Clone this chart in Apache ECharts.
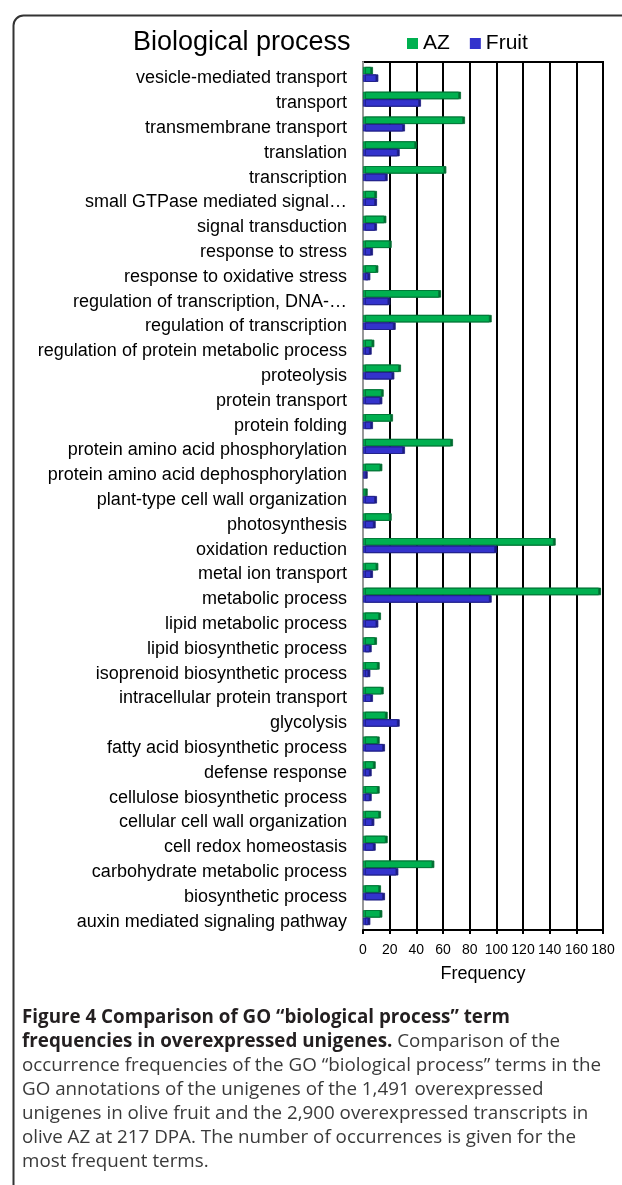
<!DOCTYPE html>
<html>
<head>
<meta charset="utf-8">
<script src="https://cdn.jsdelivr.net/npm/echarts@6/dist/echarts.min.js"></script>
<style>
html,body{margin:0;padding:0;background:#fff;}
#chart{width:622px;height:1185px;}
</style>
</head>
<body>
<div id="chart"></div>
<script>
const categories = [
  "vesicle-mediated transport","transport","transmembrane transport","translation","transcription",
  "small GTPase mediated signal…","signal transduction","response to stress","response to oxidative stress",
  "regulation of transcription, DNA-…","regulation of transcription","regulation of protein metabolic process",
  "proteolysis","protein transport","protein folding","protein amino acid phosphorylation",
  "protein amino acid dephosphorylation","plant-type cell wall organization","photosynthesis",
  "oxidation reduction","metal ion transport","metabolic process","lipid metabolic process",
  "lipid biosynthetic process","isoprenoid biosynthetic process","intracellular protein transport",
  "glycolysis","fatty acid biosynthetic process","defense response","cellulose biosynthetic process",
  "cellular cell wall organization","cell redox homeostasis","carbohydrate metabolic process",
  "biosynthetic process","auxin mediated signaling pathway"
];
const azValues = [6,72,75,39,61,9,16,20,10,57,95,7,27,14,21,66,13,2,20,143,10,177,12,9,11,14,17,11,8,11,12,17,52,12,13];
const fruitValues = [10,42,30,26,17,9,9,6,4,19,23,5,22,13,6,30,2,9,8,99,6,95,10,5,4,6,26,15,5,5,7,8,25,15,4];
const xTicks = [0,20,40,60,80,100,120,140,160,180];
const seriesNames = ["AZ","Fruit"];
const chartTitle = "Biological process";
const xAxisName = "Frequency";
const captionLines = [
  [["b","Figure 4 Comparison of GO “biological process” term"]],
  [["b","frequencies in overexpressed unigenes."],["r"," Comparison of the"]],
  [["r","occurrence frequencies of the GO “biological process” terms in the"]],
  [["r","GO annotations of the unigenes of the 1,491 overexpressed"]],
  [["r","unigenes in olive fruit and the 2,900 overexpressed transcripts in"]],
  [["r","olive AZ at 217 DPA. The number of occurrences is given for the"]],
  [["r","most frequent terms."]]
];

const chart = echarts.init(document.getElementById('chart'), null, {renderer:'canvas'});
const captionText = captionLines.map(line => line.map(([s,t]) => '{' + s + '|' + t + '}').join('')).join('\n');
const green = '#00b050', blue = '#3333cc';

chart.setOption({
  animation: false,
  backgroundColor: '#fff',
  legend: {
    data: seriesNames,
    left: 407, top: 33, padding: 0,
    icon: 'rect', itemWidth: 11, itemHeight: 11, itemGap: 20,
    itemStyle: {borderWidth: 0, shadowBlur: 0, shadowOffsetX: 0, shadowColor: 'transparent'},
    textStyle: {fontFamily: 'Liberation Sans', fontSize: 21, color: '#000'}
  },
  grid: {left: 363, right: 19, top: 62, bottom: 1185 - 930, show: true, borderColor: '#000', borderWidth: 2, backgroundColor: 'transparent'},
  xAxis: {
    type: 'value', min: 0, max: 180, interval: 20,
    name: xAxisName, nameLocation: 'middle', nameGap: 35,
    nameTextStyle: {fontFamily: 'Liberation Sans', fontSize: 18, color: '#000'},
    axisLine: {show: true, lineStyle: {color: '#000', width: 2}},
    axisTick: {show: true, length: 4, lineStyle: {color: '#000', width: 2}},
    axisLabel: {fontFamily: 'Liberation Sans', fontSize: 14, color: '#000', margin: 13,
      formatter: v => xTicks.includes(v) ? String(v) : ''},
    splitLine: {show: true, lineStyle: {color: '#000', width: 2}}
  },
  yAxis: {
    type: 'category', data: categories, inverse: true,
    axisLine: {show: true, lineStyle: {color: '#999', width: 2}},
    axisTick: {show: false},
    axisLabel: {fontFamily: 'Liberation Sans', fontSize: 18, color: '#000', margin: 16, interval: 0,
      verticalAlign: 'top', lineHeight: 8}
  },
  series: [
    {name: seriesNames[0], type: 'bar', data: azValues, barWidth: 7.5, barGap: '0%',
     itemStyle: {color: green, borderColor: '#007a38', borderWidth: 0.8,
       shadowColor: '#006b30', shadowOffsetX: 2, shadowOffsetY: 0, shadowBlur: 0}},
    {name: seriesNames[1], type: 'bar', data: fruitValues, barWidth: 7.5, barGap: '0%',
     itemStyle: {color: blue, borderColor: '#22228a', borderWidth: 0.8,
       shadowColor: '#1c1c80', shadowOffsetX: 2, shadowOffsetY: 0, shadowBlur: 0}}
  ],
  graphic: [
    {type: 'rect', left: 11, top: 13, shape: {width: 700, height: 1200, r: 10}, z: -10, silent: true,
     style: {fill: 'none', stroke: '#333', lineWidth: 2}},
    {type: 'text', left: 133, top: 29, style: {text: chartTitle, font: '27px "Liberation Sans"', fill: '#000'}},
    {type: 'text', left: 22, top: 1006, style: {
      text: captionText, lineHeight: 24,
      rich: {
        b: {fontFamily: 'Open Sans', fontWeight: 'bold', fontSize: 18.8, fill: '#231f20', lineHeight: 24},
        r: {fontFamily: 'Open Sans', fontWeight: 'normal', fontSize: 18.8, fill: '#3a3a3a', lineHeight: 24}
      }
    }}
  ]
});
</script>
</body>
</html>
